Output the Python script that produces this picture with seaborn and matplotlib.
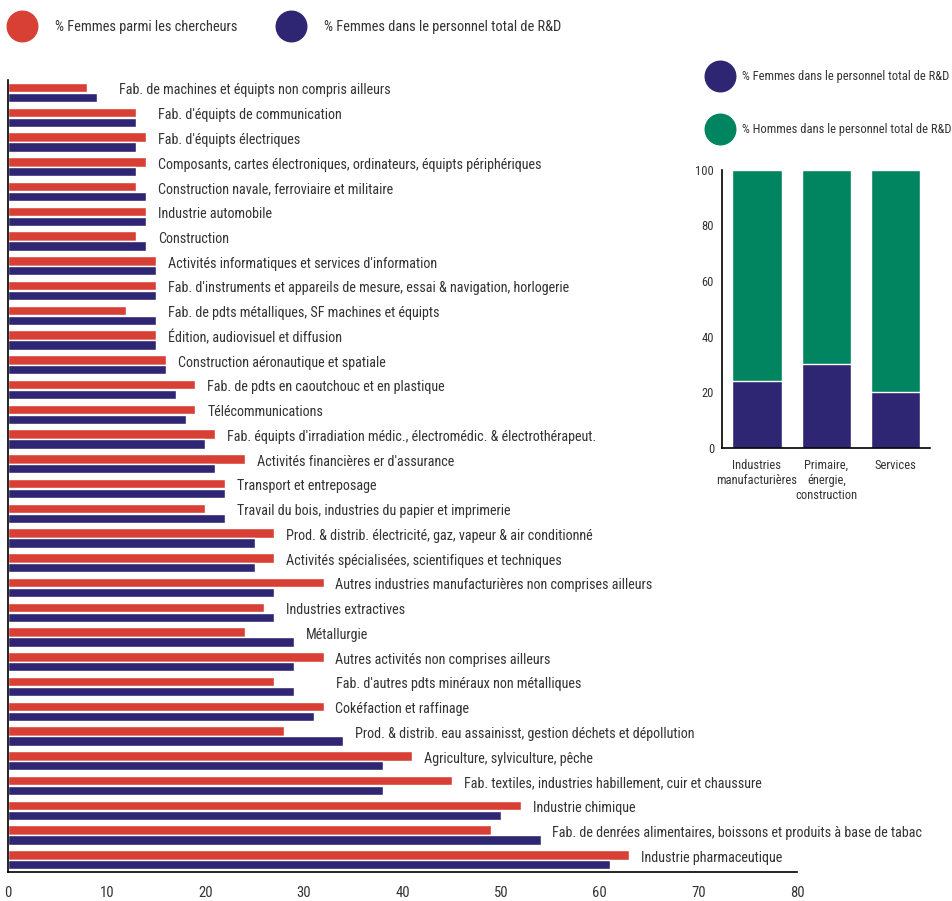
import pandas as pd
import seaborn as sns
import matplotlib.pyplot as plt
from matplotlib.lines import Line2D

sns.set_style('white')
plt.rcParams['font.family'] = ['Roboto Condensed', 'Roboto', 'DejaVu Sans']

categories = [
    "Fab. de machines et équipts non compris ailleurs",
    "Fab. d'équipts de communication",
    "Fab. d'équipts électriques",
    "Composants, cartes électroniques, ordinateurs, équipts périphériques",
    "Construction navale, ferroviaire et militaire",
    "Industrie automobile",
    "Construction",
    "Activités informatiques et services d'information",
    "Fab. d'instruments et appareils de mesure, essai & navigation, horlogerie",
    "Fab. de pdts métalliques, SF machines et équipts",
    "Édition, audiovisuel et diffusion",
    "Construction aéronautique et spatiale",
    "Fab. de pdts en caoutchouc et en plastique",
    "Télécommunications",
    "Fab. équipts d'irradiation médic., électromédic. & électrothérapeut.",
    "Activités financières er d'assurance",
    "Transport et entreposage",
    "Travail du bois, industries du papier et imprimerie",
    "Prod. & distrib. électricité, gaz, vapeur & air conditionné",
    "Activités spécialisées, scientifiques et techniques",
    "Autres industries manufacturières non comprises ailleurs",
    "Industries extractives",
    "Métallurgie",
    "Autres activités non comprises ailleurs",
    "Fab. d'autres pdts minéraux non métalliques",
    "Cokéfaction et raffinage",
    "Prod. & distrib. eau assainisst, gestion déchets et dépollution",
    "Agriculture, sylviculture, pêche",
    "Fab. textiles, industries habillement, cuir et chaussure",
    "Industrie chimique",
    "Fab. de denrées alimentaires, boissons et produits à base de tabac",
    "Industrie pharmaceutique",
]
femmes_chercheurs = [8, 13, 14, 14, 13, 14, 13, 15, 15, 12, 15, 16, 19, 19, 21, 24,
                     22, 20, 27, 27, 32, 26, 24, 32, 27, 32, 28, 41, 45, 52, 49, 63]
femmes_personnel = [9, 13, 13, 13, 14, 14, 14, 15, 15, 15, 15, 16, 17, 18, 20, 21,
                    22, 22, 25, 25, 27, 27, 29, 29, 29, 31, 34, 38, 38, 50, 54, 61]

secteurs = ["Industries\nmanufacturières", "Primaire,\nénergie,\nconstruction", "Services"]
secteur_femmes = [24, 30, 20]
secteur_hommes = [76, 70, 80]

serie_a = "% Femmes parmi les chercheurs"
serie_b = "% Femmes dans le personnel total de R&D"
serie_c = "% Hommes dans le personnel total de R&D"

red = '#D94035'
navy = '#2E2672'
green = '#008560'
txt = '#333333'

df = pd.DataFrame({
    'cat': categories * 2,
    'val': femmes_chercheurs + femmes_personnel,
    'serie': [serie_a] * len(categories) + [serie_b] * len(categories),
})

fig = plt.figure(figsize=(9.53, 9.01), dpi=100)
ax = fig.add_axes([0.0084, 0.032, 0.828, 0.879])
sns.barplot(data=df, y='cat', x='val', hue='serie', orient='h', ax=ax,
            palette=[red, navy], width=0.8, gap=0.05, saturation=1, legend=False)
ax.set_xlim(0, 80)
ax.set_xticks(range(0, 81, 10))
ax.set_xlabel('')
ax.set_ylabel('')
ax.tick_params(axis='y', direction='in', length=14, width=1.2, color='black', labelleft=False)
ax.tick_params(axis='x', direction='in', length=4, width=1, color='black', labelsize=10.5,
               labelcolor=txt, pad=10)
for s in ['top', 'right']:
    ax.spines[s].set_visible(False)
for s in ['left', 'bottom']:
    ax.spines[s].set_color('black')
    ax.spines[s].set_linewidth(1.2)

# ecart entre la barre et son libelle (quelques libelles sont plus loin)
ecart = {0: 2.3, 1: 2.2, 24: 4.3}
for i, c in enumerate(categories):
    m = max(femmes_chercheurs[i], femmes_personnel[i])
    ax.text(m + ecart.get(i, 1.2), i - 0.09, c, va='center', ha='left', fontsize=10.2, color=txt)

# legende du haut
h1 = Line2D([], [], marker='o', linestyle='', markersize=22, color=red)
h2 = Line2D([], [], marker='o', linestyle='', markersize=22, color=navy)
fig.legend([h1, h2], [serie_a, serie_b], loc='upper left', bbox_to_anchor=(0.008, 0.978),
           ncol=2, frameon=False, fontsize=10.4, labelcolor=txt, handletextpad=1.3,
           columnspacing=2.7, borderaxespad=0, borderpad=0)

# encadre secteurs
ax2 = fig.add_axes([0.758, 0.503, 0.218, 0.3085])
sdf = pd.DataFrame({'secteur': secteurs, 'total': [f + h for f, h in zip(secteur_femmes, secteur_hommes)],
                    'femmes': secteur_femmes})
sns.barplot(data=sdf, x='secteur', y='total', color=green, width=0.714, ax=ax2, saturation=1)
sns.barplot(data=sdf, x='secteur', y='femmes', color=navy, width=0.714, ax=ax2, saturation=1)
ax2.set_xlim(-0.5, 2.5)
ax2.set_ylim(0, 100)
ax2.set_yticks(range(0, 101, 20))
ax2.set_xlabel('')
ax2.set_ylabel('')
ax2.set_xticks([0.5, 1.5, 2.5], minor=True)
ax2.tick_params(axis='x', which='major', length=0, labelsize=9, labelcolor=txt, pad=8)
ax2.tick_params(axis='x', which='minor', direction='in', length=5, width=1, color='black')
ax2.tick_params(axis='y', direction='in', length=4, width=1, color='black', labelsize=9,
                labelcolor=txt, pad=6)
for s in ['top', 'right']:
    ax2.spines[s].set_visible(False)
for s in ['left', 'bottom']:
    ax2.spines[s].set_color('black')
    ax2.spines[s].set_linewidth(1.2)

h3 = Line2D([], [], marker='o', linestyle='', markersize=22, color=navy)
h4 = Line2D([], [], marker='o', linestyle='', markersize=22, color=green)
fig.legend([h3, h4], [serie_b, serie_c], loc='upper left', bbox_to_anchor=(0.7424, 0.922),
           ncol=1, frameon=False, fontsize=9, labelcolor=txt, handletextpad=0.76,
           labelspacing=3.2, borderaxespad=0, borderpad=0)

fig.savefig('out.png', dpi=100)
